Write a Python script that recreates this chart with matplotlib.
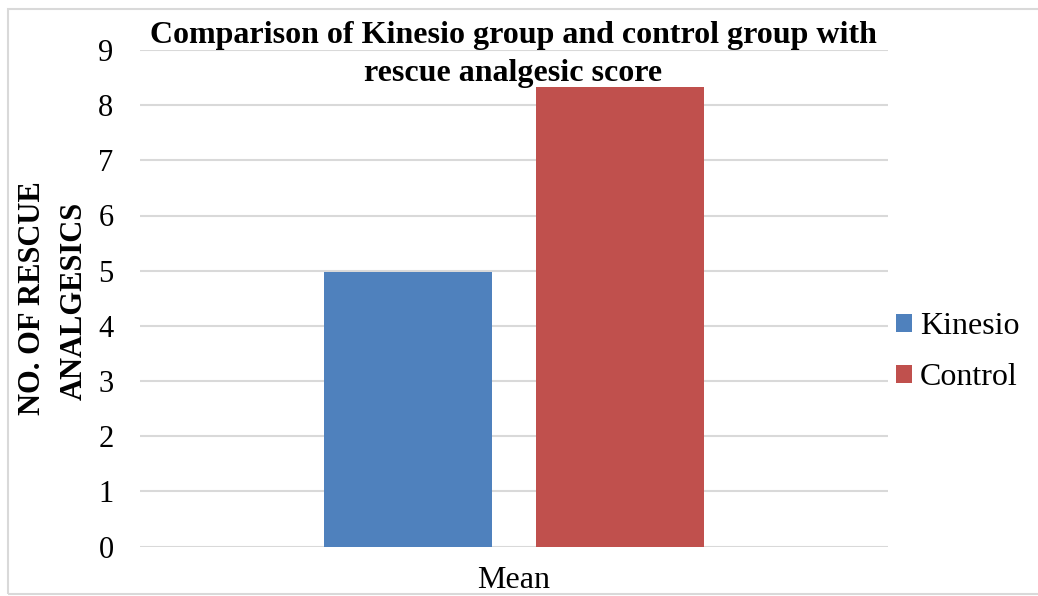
import matplotlib
matplotlib.use("Agg")
import matplotlib.pyplot as plt
from matplotlib.patches import Rectangle

# Data
category = "Mean"
series_names = ["Kinesio", "Control"]
series_values = [4.97, 8.33]
series_colors = ["#4F81BD", "#C0504D"]
y_ticks = list(range(0, 10))

plt.rcParams["font.family"] = ["Liberation Serif", "DejaVu Serif"]

W, H = 1038, 596
fig = plt.figure(figsize=(W / 100, H / 100), dpi=100)

# chart-area border
fig.patches.append(Rectangle((8 / W, 1 - 594 / H), 1.2, (594 - 9) / H,
                             transform=fig.transFigure, fill=False,
                             edgecolor="#D9D9D9", linewidth=1.5))

ax = fig.add_axes([140 / W, (H - 546.5) / H, (888 - 140) / W, (546.5 - 50) / H])

bar_w = 0.2246
gap = 0.0588
offsets = [-(bar_w + gap) / 2, (bar_w + gap) / 2]
for name, val, col, off in zip(series_names, series_values, series_colors, offsets):
    ax.bar(off, val, width=bar_w, color=col, label=name, zorder=3)

ax.set_xlim(-0.5, 0.5)
ax.set_ylim(0, 9)
ax.set_yticks(y_ticks)
ax.set_yticklabels([str(t) for t in y_ticks], fontsize=22)
ax.set_xticks([])
ax.tick_params(axis="both", length=0)
ax.tick_params(axis="y", pad=19)
ax.grid(axis="y", color="#D9D9D9", linewidth=1.5, zorder=0)
for s in ax.spines.values():
    s.set_visible(False)

# category label below the plot
fig.text(514 / W, 1 - 588 / H, category, ha="center", va="baseline", fontsize=23)

# y-axis title, two rotated lines
fig.text(33 / W, 1 - 298.5 / H, "NO. OF RESCUE", rotation=90, ha="center",
         va="center", fontsize=22, fontweight="bold")
fig.text(74 / W, 1 - 301 / H, "ANALGESICS", rotation=90, ha="center",
         va="center", fontsize=22, fontweight="bold")

# chart title, two lines
fig.text(513 / W, 1 - 43 / H, "Comparison of Kinesio group and control group with",
         ha="center", va="baseline", fontsize=23, fontweight="bold")
fig.text(513 / W, 1 - 81 / H, "rescue analgesic score",
         ha="center", va="baseline", fontsize=23, fontweight="bold")

leg = ax.legend(loc="center left", bbox_to_anchor=(896 / W, 1 - 352 / H),
                bbox_transform=fig.transFigure, frameon=False,
                fontsize=23, handlelength=0.5, handleheight=0.5,
                handletextpad=0.25, labelspacing=0.69, borderaxespad=0,
                borderpad=0)

fig.savefig("out.png", dpi=100)
